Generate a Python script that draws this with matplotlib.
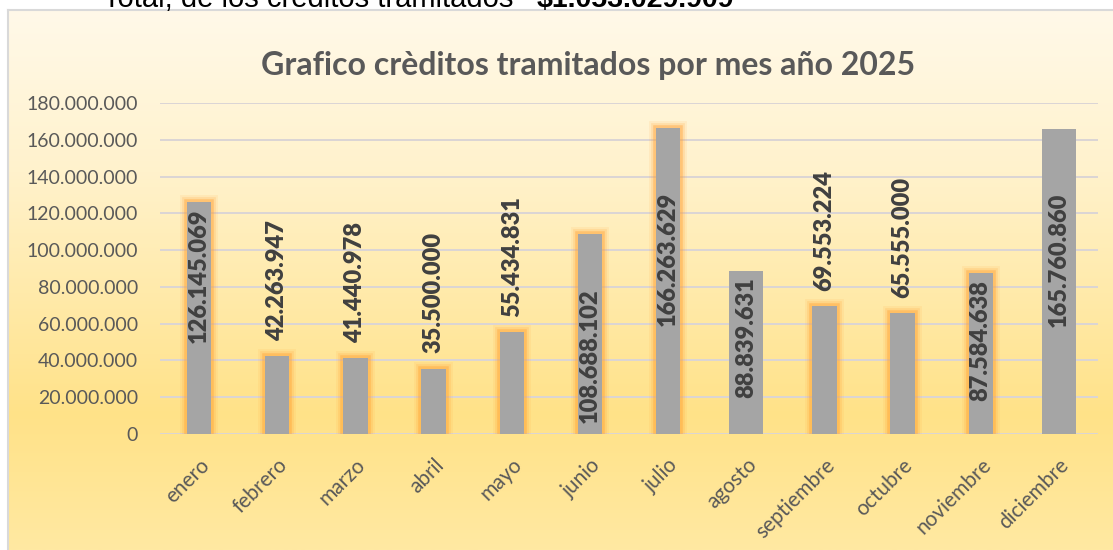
import numpy as np
import matplotlib.pyplot as plt
from matplotlib.colors import LinearSegmentedColormap

# datos
meses = ['enero', 'febrero', 'marzo', 'abril', 'mayo', 'junio', 'julio',
         'agosto', 'septiembre', 'octubre', 'noviembre', 'diciembre']
creditos = [126145069, 42263947, 41440978, 35500000, 55434831, 108688102,
            166263629, 88839631, 69553224, 65555000, 87584638, 165760860]
# posicion de cada etiqueta (como en excel)
pos_etiqueta = ['dentro', 'fuera', 'fuera', 'fuera', 'fuera', 'base',
                'centro', 'dentro', 'fuera', 'fuera', 'dentro', 'centro']
ancho_barra = [0.31, 0.31, 0.31, 0.31, 0.31, 0.31, 0.31, 0.43, 0.31, 0.31, 0.31, 0.43]

titulo = 'Grafico crèditos tramitados por mes año 2025'
texto_total = 'Total, de los créditos tramitados'
total = '$' + f'{sum(creditos):,}'.replace(',', '.')

W, H = 1113, 550
fig = plt.figure(figsize=(W / 100, H / 100), dpi=100)
fig.patch.set_facecolor('white')

# fondo degradado del grafico
bg = fig.add_axes([8 / W, 0, 1 - 8 / W, (H - 10) / H], zorder=0)
fondo = LinearSegmentedColormap.from_list(
    'fondo', [(0, '#FFF9E9'), (0.3, '#FFF2CC'), (0.75, '#FFE288'), (1, '#FFE9A2')])
bg.imshow(np.linspace(0, 1, 256).reshape(-1, 1), aspect='auto', cmap=fondo)
bg.set_xticks([])
bg.set_yticks([])
for lado in ['right', 'bottom']:
    bg.spines[lado].set_visible(False)
for lado in ['top', 'left']:
    bg.spines[lado].set_color('#D9D9D9')
    bg.spines[lado].set_linewidth(1.5)

# texto cortado de arriba (en la imagen original sale cortado)
fig.text(103 / W, 1 - 7 / H, texto_total, fontsize=21, family='Liberation Sans',
         color='black', va='baseline')
fig.text(537 / W, 1 - 7 / H, total, fontsize=20.5, family='Liberation Sans',
         fontweight='bold', color='black', va='baseline')

ax = fig.add_axes([160 / W, (H - 434) / H, 938 / W, 331 / H], zorder=1)
ax.set_facecolor('none')

x = np.arange(len(meses))
for i, v in enumerate(creditos):
    w = ancho_barra[i]
    if w < 0.4:
        # brillo naranja alrededor
        for lw, a in [(10, 0.10), (7, 0.18), (4, 0.38)]:
            ax.bar(x[i], v, width=w, color='none', edgecolor='#FF9F30',
                   linewidth=lw, alpha=a, zorder=2)
    ax.bar(x[i], v, width=w, color='#A5A5A5', zorder=3)

# etiquetas de valores
for i, v in enumerate(creditos):
    txt = f'{v:,}'.replace(',', '.')
    p = pos_etiqueta[i]
    if p == 'fuera':
        xy, off, va = (x[i], v), (0, 11), 'bottom'
    elif p == 'dentro':
        xy, off, va = (x[i], v), (0, -5), 'top'
    elif p == 'base':
        xy, off, va = (x[i], 0), (0, 8), 'bottom'
    else:
        xy, off, va = (x[i], v / 2), (0, 16), 'center'
    ax.annotate(txt, xy=xy, xytext=off, textcoords='offset points',
                rotation=90, ha='center', va=va, fontsize=17,
                fontweight='heavy', color='#404040', family='Lato', zorder=4)

ax.set_xlim(-0.5, len(meses) - 0.5)
ax.set_ylim(0, 180000000)
ax.set_yticks(np.arange(0, 180000001, 20000000))
ax.set_yticklabels([f'{int(t):,}'.replace(',', '.') for t in ax.get_yticks()],
                   fontsize=14, color='#595959', family='Lato')
ax.set_xticks(x)
ax.set_xticklabels(meses, rotation=45, ha='right', rotation_mode='anchor',
                   fontsize=15, color='#595959', family='Lato')
ax.tick_params(axis='y', length=0, pad=16)
ax.tick_params(axis='x', length=0, pad=15)
ax.yaxis.grid(True, color='#DAD5D5', linewidth=1.4, zorder=1)
ax.set_axisbelow(True)
for s in ax.spines.values():
    s.set_visible(False)

fig.text(588 / W, 1 - 66 / H, titulo, ha='center', va='center', fontsize=23,
         fontweight='bold', color='#595959', family='Lato')

plt.savefig('out.png', dpi=100)
